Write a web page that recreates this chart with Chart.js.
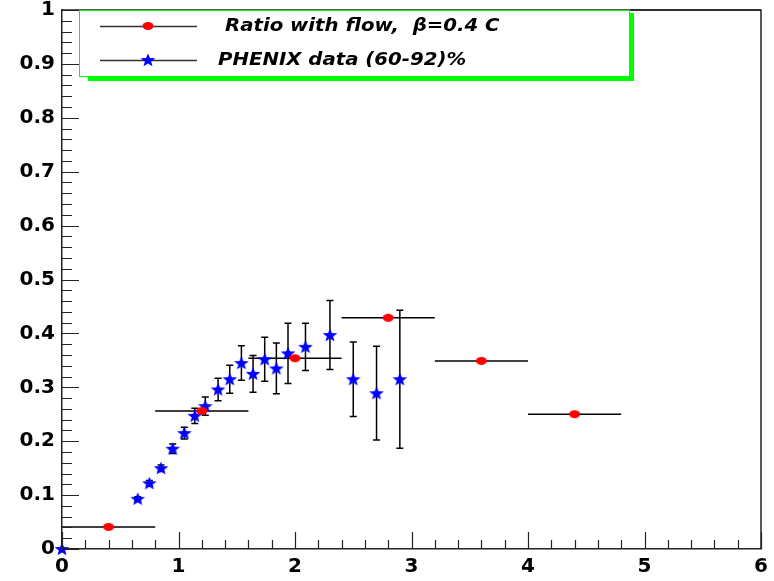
<!DOCTYPE html>
<html>
<head>
<meta charset="utf-8">
<script src="https://cdn.jsdelivr.net/npm/chart.js@4.4.1/dist/chart.umd.min.js"></script>
<style>
  html, body { margin: 0; padding: 0; background: #fff; }
  #wrap { width: 774px; height: 581px; }
</style>
</head>
<body>
<div id="wrap"><canvas id="chart" width="774" height="581"></canvas></div>
<script>
// Ratio with flow (model), bins of width 0.8
const flowX = [0.4, 1.2, 2.0, 2.8, 3.6, 4.4];
const flowY = [0.041, 0.256, 0.354, 0.429, 0.349, 0.250];
const flowXErr = [0.4, 0.4, 0.4, 0.4, 0.4, 0.4];

// PHENIX data (60-92)%
const phenixX = [0.0, 0.65, 0.75, 0.85, 0.95, 1.05, 1.14, 1.23, 1.34, 1.44, 1.54, 1.64, 1.74, 1.84, 1.94, 2.09, 2.30, 2.50, 2.70, 2.90];
const phenixY = [0.0, 0.093, 0.122, 0.150, 0.186, 0.215, 0.247, 0.265, 0.296, 0.315, 0.345, 0.325, 0.352, 0.335, 0.363, 0.375, 0.397, 0.315, 0.289, 0.315];
const phenixErr = [0.0, 0.004, 0.005, 0.006, 0.009, 0.011, 0.014, 0.017, 0.021, 0.026, 0.032, 0.034, 0.041, 0.047, 0.056, 0.044, 0.064, 0.069, 0.087, 0.128];

const xTickLabels = ['0', '1', '2', '3', '4', '5', '6'];
const yTickLabels = ['0', '0.1', '0.2', '0.3', '0.4', '0.5', '0.6', '0.7', '0.8', '0.9', '1'];

const labelFlow = 'Ratio with flow,  \u03B2=0.4 C';
const labelPhenix = 'PHENIX data (60-92)%';

// marker images
function makeStar() {
    const c = document.createElement('canvas');
    c.width = 16; c.height = 16;
    const g = c.getContext('2d');
    g.fillStyle = '#0000ff';
    g.beginPath();
    for (let i = 0; i < 10; i++) {
        const r = i % 2 === 0 ? 7 : 3;
        const a = -Math.PI / 2 + i * Math.PI / 5;
        const px = 8 + r * Math.cos(a) * 1.1;
        const py = 8.5 + r * Math.sin(a);
        if (i === 0) g.moveTo(px, py); else g.lineTo(px, py);
    }
    g.closePath();
    g.fill();
    return c;
}
function makeDot() {
    const c = document.createElement('canvas');
    c.width = 14; c.height = 10;
    const g = c.getContext('2d');
    g.fillStyle = '#ff0000';
    g.beginPath();
    g.ellipse(7, 5, 5.5, 4, 0, 0, Math.PI * 2);
    g.fill();
    return c;
}
const starImg = makeStar();
const dotImg = makeDot();

const errorBars = {
    id: 'errorBars',
    beforeDatasetsDraw(chart) {
        const {ctx, scales: {x, y}} = chart;
        ctx.save();
        ctx.strokeStyle = '#000';
        ctx.lineWidth = 1.5;
        // horizontal bars on the model points
        for (let i = 0; i < flowX.length; i++) {
            const py = y.getPixelForValue(flowY[i]);
            ctx.beginPath();
            ctx.moveTo(x.getPixelForValue(flowX[i] - flowXErr[i]), py);
            ctx.lineTo(x.getPixelForValue(flowX[i] + flowXErr[i]), py);
            ctx.stroke();
        }
        // vertical bars with caps on the data
        for (let i = 0; i < phenixX.length; i++) {
            if (!phenixErr[i]) continue;
            const px = x.getPixelForValue(phenixX[i]);
            const top = y.getPixelForValue(phenixY[i] + phenixErr[i]);
            const bot = y.getPixelForValue(phenixY[i] - phenixErr[i]);
            ctx.beginPath();
            ctx.moveTo(px, top); ctx.lineTo(px, bot);
            ctx.moveTo(px - 3.5, top); ctx.lineTo(px + 3.5, top);
            ctx.moveTo(px - 3.5, bot); ctx.lineTo(px + 3.5, bot);
            ctx.stroke();
        }
        ctx.restore();
    }
};

const frameAndTicks = {
    id: 'frameAndTicks',
    afterDraw(chart) {
        const {ctx, chartArea: a, scales: {x, y}} = chart;
        ctx.save();
        ctx.strokeStyle = '#222';
        ctx.lineWidth = 1.5;
        ctx.beginPath();
        ctx.moveTo(a.left, a.top); ctx.lineTo(a.right, a.top); ctx.lineTo(a.right, a.bottom);
        ctx.stroke();
        ctx.lineWidth = 1.2;
        ctx.beginPath();
        // y ticks every 0.02, major every 0.1
        for (let i = 0; i <= 50; i++) {
            const py = Math.round(y.getPixelForValue(i * 0.02)) + 0.5;
            const len = i % 5 === 0 ? 17 : 10;
            ctx.moveTo(a.left, py); ctx.lineTo(a.left + len, py);
        }
        // x ticks every 0.2, major every 1
        for (let i = 0; i <= 30; i++) {
            const px = Math.round(x.getPixelForValue(i * 0.2)) + 0.5;
            const len = i % 5 === 0 ? 17 : 9;
            ctx.moveTo(px, a.bottom); ctx.lineTo(px, a.bottom - len);
        }
        ctx.stroke();

        // legend box
        const L = 79, T = 10, R = 630, B = 77;
        ctx.fillStyle = '#00ff00';
        ctx.fillRect(R, T + 3, 4, B - T + 1);
        ctx.fillRect(L + 9, B, R - L - 5, 4);
        ctx.fillStyle = '#fff';
        ctx.fillRect(L, T, R - L, B - T);
        ctx.strokeStyle = '#00ff00';
        ctx.lineWidth = 1;
        ctx.strokeRect(L + 0.5, T + 0.5, R - L - 1, B - T - 1);
        // top frame line continues beyond the legend
        ctx.strokeStyle = '#222';
        ctx.lineWidth = 1.5;
        ctx.beginPath();
        ctx.moveTo(R, a.top); ctx.lineTo(a.right, a.top);
        ctx.stroke();

        const rows = [
            {y: 26, img: dotImg, text: labelFlow, tx: 225},
            {y: 60, img: starImg, text: labelPhenix, tx: 218}
        ];
        ctx.font = 'italic bold 17px "DejaVu Sans"';
        ctx.textBaseline = 'middle';
        rows.forEach(r => {
            ctx.strokeStyle = '#333';
            ctx.lineWidth = 1.3;
            ctx.beginPath();
            ctx.moveTo(100, r.y + 0.5); ctx.lineTo(197, r.y + 0.5);
            ctx.stroke();
            ctx.drawImage(r.img, 148 - r.img.width / 2, r.y - r.img.height / 2);
            ctx.save();
            ctx.translate(r.tx, r.y + 1);
            ctx.scale(1.16, 1);
            ctx.fillStyle = '#000';
            ctx.fillText(r.text, 0, 0);
            ctx.restore();
        });
        ctx.restore();
    }
};

const tickFont = {family: '"DejaVu Sans"', weight: 'bold', size: 20};

new Chart(document.getElementById('chart'), {
    type: 'scatter',
    data: {
        datasets: [{
            label: labelFlow,
            data: flowX.map((v, i) => ({x: v, y: flowY[i]})),
            pointStyle: dotImg,
            clip: false
        }, {
            label: labelPhenix,
            data: phenixX.map((v, i) => ({x: v, y: phenixY[i]})),
            pointStyle: starImg,
            clip: false
        }]
    },
    options: {
        responsive: false,
        animation: false,
        layout: {
            padding: {top: 10, right: 13, left: 0, bottom: 0}
        },
        plugins: {
            legend: {display: false},
            tooltip: {enabled: false}
        },
        scales: {
            x: {
                type: 'linear',
                min: 0,
                max: 6,
                afterFit: s => { s.height = 32; s.paddingLeft = 0; s.paddingRight = 0; },
                grid: {display: false, drawTicks: false},
                border: {display: true, color: '#222', width: 1.5},
                ticks: {
                    stepSize: 1,
                    padding: 6,
                    color: '#000',
                    font: tickFont,
                    maxRotation: 0,
                    callback: (v, i) => xTickLabels[i]
                }
            },
            y: {
                type: 'linear',
                min: 0,
                max: 1,
                afterFit: s => { s.width = 62; s.paddingTop = 0; s.paddingBottom = 0; },
                grid: {display: false, drawTicks: false},
                border: {display: true, color: '#222', width: 1.5},
                ticks: {
                    stepSize: 0.1,
                    padding: 7,
                    color: '#000',
                    font: tickFont,
                    callback: (v, i) => yTickLabels[i]
                }
            }
        }
    },
    plugins: [errorBars, frameAndTicks]
});
</script>
</body>
</html>
